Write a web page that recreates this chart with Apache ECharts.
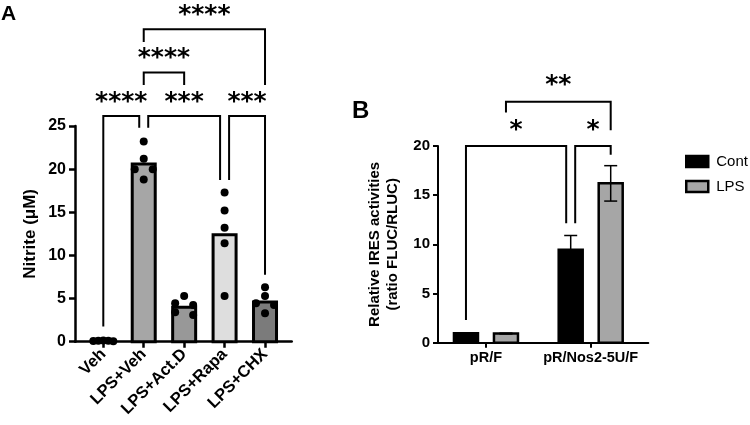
<!DOCTYPE html>
<html>
<head>
<meta charset="utf-8">
<script src="https://cdn.jsdelivr.net/npm/echarts@6/dist/echarts.min.js"></script>
<style>html,body{margin:0;background:#fff}#main{width:750px;height:425px}</style>
</head>
<body>
<div id="main"></div>
<script>
// panel A - nitrite
var groupsA = ['Veh', 'LPS+Veh', 'LPS+Act.D', 'LPS+Rapa', 'LPS+CHX'];
var meansA = [0.1, 20.6, 4.0, 12.4, 4.6];
var dotsA = [
	[0.1, 0.15, 0.05, 0.12, 0.08],
	[23.2, 21.2, 20.0, 20.0, 18.8],
	[5.3, 4.45, 4.25, 3.4, 3.1],
	[17.3, 15.2, 13.2, 11.4, 5.3],
	[6.3, 5.3, 4.45, 4.25, 3.3]
];
// [from, to, top, left leg end, right leg end, label]
var bracketsA = [
	[0, 1, 26.15, 1.75, 24.8, '****'],
	[1, 3, 26.15, 24.8, 18.75, '***'],
	[3, 4, 26.15, 18.75, 7.75, '***'],
	[1, 2, 31.2, 29.75, 29.75, '****'],
	[1, 4, 36.2, 34.75, 29.75, '****']
];

// panel B - IRES activity
var groupsB = ['pR/F', 'pR/Nos2-5U/F'];
var contB = [0.95, 9.45];
var contErrB = [0.05, 1.45];
var lpsB = [0.93, 16.2];
var lpsErrB = [0.04, 1.8];
// [from group, from series, to group, to series, top, left leg end, right leg end, label]
var bracketsB = [
	[0, 0, 1, 0, 20.0, 2.3, 12.15, '*'],
	[1, 0, 1, 1, 20.0, 12.15, 19.1, '*'],
	[0, 1, 1, 1, 24.5, 23.4, 21.6, '**']
];

var FONT = '"Liberation Sans", Arial, sans-serif';
var barColorsA = ['#c8c8c8', '#a6a6a6', '#989898', '#dedede', '#7b7b7b'];

// spread dots sideways where they sit at about the same height
function jitter(vals){
	var order = vals.map(function(v, i){ return i; }).sort(function(a, b){ return vals[b] - vals[a]; });
	var off = vals.map(function(){ return 0; });
	var k = 0;
	while(k < order.length){
		var c = [order[k]];
		while(k + c.length < order.length && vals[c[c.length-1]] - vals[order[k+c.length]] < 0.75)
			c.push(order[k+c.length]);
		var slots = c.length % 2 ? [0, -9, 9, -18, 18, -27, 27] : [-9, 9, -18, 18, -27, 27];
		c.forEach(function(idx, j){ off[idx] = slots[j]; });
		k += c.length;
	}
	var m = Math.max.apply(null, off.map(Math.abs));
	if(m > 10) off = off.map(function(o){ return o * 10 / m; });
	return off;
}

var dotData = [];
dotsA.forEach(function(vals, g){
	var off = jitter(vals);
	vals.forEach(function(v, i){ dotData.push([g, v, off[i]]); });
});

// nudge bracket ends that meet at the same point on the same tier
function nudges(list, keyL, keyR, top){
	return list.map(function(b){
		var l = 0, r = 0;
		list.forEach(function(o){
			if(o === b || o[top] !== b[top]) return;
			if(keyR(o) === keyL(b)) l = 4.5;
			if(keyL(o) === keyR(b)) r = -4.5;
		});
		return [l, r];
	});
}
var nudA = nudges(bracketsA, function(b){ return b[0]; }, function(b){ return b[1]; }, 2);
var nudB = nudges(bracketsB, function(b){ return b[0] + '_' + b[1]; }, function(b){ return b[2] + '_' + b[3]; }, 4);

function bracketShape(xl, xr, yTop, yL, yR, label, gap){
	return {
		type: 'group',
		children: [{
			type: 'polyline',
			shape: { points: [[xl, yL], [xl, yTop], [xr, yTop], [xr, yR]] },
			style: { stroke: '#000', lineWidth: 2, fill: null }
		}, {
			type: 'text',
			x: (xl + xr) / 2,
			y: yTop - gap,
			style: {
				text: label, fill: '#000', align: 'center', verticalAlign: 'middle',
				fontFamily: '"DejaVu Sans", sans-serif', fontWeight: 'bold', fontSize: 25
			}
		}]
	};
}

var OFFSET_B = 20;
function barB(color, errs){
	return function(params, api){
		var g = api.value(0), v = api.value(1), e = errs[params.dataIndex];
		var dx = params.seriesName === 'Cont' ? -OFFSET_B : OFFSET_B;
		var p = api.coord([g, v]);
		var base = api.coord([g, 0]);
		var hi = api.coord([g, v + e]);
		var lo = api.coord([g, v - e]);
		var x = p[0] + dx, w = 24, cap = 13;
		return {
			type: 'group',
			children: [{
				type: 'rect',
				shape: { x: x - w / 2, y: p[1], width: w, height: base[1] - p[1] },
				style: { fill: color, stroke: '#000', lineWidth: 2.5 }
			}, {
				type: 'polyline',
				shape: { points: [[x, lo[1]], [x, hi[1]]] },
				style: { stroke: '#000', lineWidth: 1.5, fill: null }
			}, {
				type: 'line',
				shape: { x1: x - cap / 2, y1: hi[1], x2: x + cap / 2, y2: hi[1] },
				style: { stroke: '#000', lineWidth: 1.5 }
			}, {
				type: 'line',
				shape: { x1: x - cap / 2, y1: lo[1], x2: x + cap / 2, y2: lo[1] },
				style: { stroke: '#000', lineWidth: 1.5 }
			}]
		};
	};
}

var chart = echarts.init(document.getElementById('main'));

var axisLabelStyle = { color: '#000', fontFamily: FONT, fontWeight: 'bold' };

chart.setOption({
	animation: false,
	backgroundColor: '#fff',
	graphic: [
		{ type: 'text', left: 1, top: 4, style: { text: 'A', fontFamily: FONT, fontWeight: 'bold', fontSize: 21, fill: '#000' } },
		{ type: 'text', left: 352, top: 99, style: { text: 'B', fontFamily: FONT, fontWeight: 'bold', fontSize: 24, fill: '#000' } }
	],
	legend: {
		orient: 'vertical',
		left: 680,
		top: 149,
		itemWidth: 22,
		itemHeight: 11,
		itemGap: 10,
		textStyle: { color: '#000', fontFamily: FONT, fontSize: 15, padding: [0, 0, 0, 3] },
		data: [
			{ name: 'Cont', icon: 'rect', itemStyle: { color: '#000', borderColor: '#000', borderWidth: 2.5 } },
			{ name: 'LPS', icon: 'rect', itemStyle: { color: '#a6a6a6', borderColor: '#000', borderWidth: 2.5 } }
		]
	},
	grid: [
		{ left: 75, top: 126, width: 216.7, height: 215.7 },
		{ left: 438, top: 146, width: 210.3, height: 196.7 }
	],
	xAxis: [{
		type: 'value', gridIndex: 0, min: -0.7, max: 4.66,
		splitLine: { show: false },
		axisLine: { onZero: false, lineStyle: { color: '#000', width: 2.5 } },
		axisTick: { customValues: [0, 1, 2, 3, 4], length: 6, lineStyle: { color: '#000', width: 2.5 } },
		axisLabel: Object.assign({
			customValues: [0, 1, 2, 3, 4], rotate: 45, fontSize: 16.5, margin: 10,
			formatter: function(v){ return groupsA[Math.round(v)]; }
		}, axisLabelStyle)
	}, {
		type: 'value', gridIndex: 1, min: -0.458, max: 1.55,
		splitLine: { show: false },
		axisLine: { onZero: false, lineStyle: { color: '#000', width: 2 } },
		axisTick: { customValues: [0, 1], length: 5, lineStyle: { color: '#000', width: 2 } },
		axisLabel: Object.assign({
			customValues: [0, 1], fontSize: 14.5, margin: 8,
			formatter: function(v){ return groupsB[Math.round(v)]; }
		}, axisLabelStyle)
	}],
	yAxis: [{
		type: 'value', gridIndex: 0, min: 0, max: 25, interval: 5,
		splitLine: { show: false },
		axisLine: { show: true, onZero: false, lineStyle: { color: '#000', width: 2.5 } },
		axisTick: { show: true, length: 6, lineStyle: { color: '#000', width: 2.5 } },
		axisLabel: Object.assign({ fontSize: 16, margin: 9 }, axisLabelStyle),
		name: 'Nitrite (μM)', nameLocation: 'middle', nameGap: 36,
		nameTextStyle: { color: '#000', fontFamily: FONT, fontWeight: 'bold', fontSize: 17 }
	}, {
		type: 'value', gridIndex: 1, min: 0, max: 20, interval: 5,
		splitLine: { show: false },
		axisLine: { show: true, onZero: false, lineStyle: { color: '#000', width: 2 } },
		axisTick: { show: true, length: 5, lineStyle: { color: '#000', width: 2 } },
		axisLabel: Object.assign({ fontSize: 15, margin: 8 }, axisLabelStyle),
		name: 'Relative IRES activities\n(ratio FLUC/RLUC)', nameLocation: 'middle', nameGap: 36,
		nameTextStyle: { color: '#000', fontFamily: FONT, fontWeight: 'bold', fontSize: 15, lineHeight: 18 }
	}],
	series: [{
		name: 'nitrite', type: 'custom', xAxisIndex: 0, yAxisIndex: 0, clip: false,
		data: meansA.map(function(v, i){ return [i, v]; }),
		renderItem: function(params, api){
			var p = api.coord([api.value(0), api.value(1)]);
			var base = api.coord([api.value(0), 0]);
			var w = 23;
			return {
				type: 'rect',
				shape: { x: p[0] - w / 2, y: p[1], width: w, height: base[1] - p[1] },
				style: { fill: barColorsA[params.dataIndex], stroke: '#000', lineWidth: 3 }
			};
		}
	}, {
		name: 'dots', type: 'custom', xAxisIndex: 0, yAxisIndex: 0, clip: false,
		data: dotData,
		renderItem: function(params, api){
			var p = api.coord([api.value(0), api.value(1)]);
			return {
				type: 'circle',
				shape: { cx: p[0] + api.value(2), cy: p[1], r: 4 },
				style: { fill: '#000' }
			};
		}
	}, {
		name: 'bracketsA', type: 'custom', xAxisIndex: 0, yAxisIndex: 0, clip: false,
		data: bracketsA.map(function(b){ return [b[0], b[2]]; }),
		renderItem: function(params, api){
			var b = bracketsA[params.dataIndex], n = nudA[params.dataIndex];
			var l = api.coord([b[0], b[3]]), r = api.coord([b[1], b[4]]);
			var t = api.coord([b[0], b[2]]);
			return bracketShape(l[0] + n[0], r[0] + n[1], t[1], l[1], r[1], b[5], 14);
		}
	}, {
		name: 'Cont', type: 'custom', xAxisIndex: 1, yAxisIndex: 1, clip: false,
		itemStyle: { color: '#000' },
		data: contB.map(function(v, i){ return [i, v]; }),
		renderItem: barB('#000', contErrB)
	}, {
		name: 'LPS', type: 'custom', xAxisIndex: 1, yAxisIndex: 1, clip: false,
		itemStyle: { color: '#a6a6a6' },
		data: lpsB.map(function(v, i){ return [i, v]; }),
		renderItem: barB('#a6a6a6', lpsErrB)
	}, {
		name: 'bracketsB', type: 'custom', xAxisIndex: 1, yAxisIndex: 1, clip: false,
		data: bracketsB.map(function(b){ return [b[0], b[4]]; }),
		renderItem: function(params, api){
			var b = bracketsB[params.dataIndex], n = nudB[params.dataIndex];
			var l = api.coord([b[0], b[5]]), r = api.coord([b[2], b[6]]);
			var t = api.coord([b[0], b[4]]);
			var xl = l[0] + (b[1] ? OFFSET_B : -OFFSET_B) + n[0];
			var xr = r[0] + (b[3] ? OFFSET_B : -OFFSET_B) + n[1];
			return bracketShape(xl, xr, t[1], l[1], r[1], b[7], 16);
		}
	}]
});
</script>
</body>
</html>
